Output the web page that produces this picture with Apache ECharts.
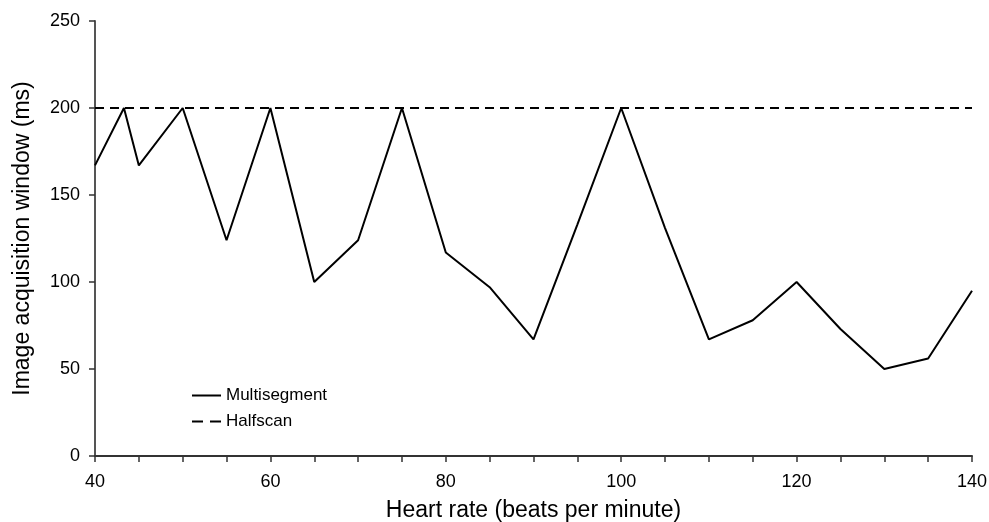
<!DOCTYPE html>
<html><head><meta charset="utf-8">
<script src="https://cdn.jsdelivr.net/npm/echarts@6/dist/echarts.min.js"></script>
<style>html,body{margin:0;padding:0;background:#fff}#c{width:989px;height:522px}</style>
</head><body><div id="c"></div>
<script>
var heartRate = [40, 43.3, 45, 50, 55, 60, 65, 70, 75, 80, 85, 90, 95, 100, 105, 110, 115, 120, 125, 130, 135, 140];
var multisegment = [167, 200, 167, 200, 124, 200, 100, 124, 200, 117, 97, 67, 133, 200, 131, 67, 78, 100, 73, 50, 56, 95];
var halfscanX = [40, 140];
var halfscan = [200, 200];
var xTicks = [40, 60, 80, 100, 120, 140];
var yTicks = [0, 50, 100, 150, 200, 250];

var font = 'Liberation Sans, Arial, sans-serif';
var chart = echarts.init(document.getElementById('c'));
chart.setOption({
  animation: false,
  backgroundColor: '#fff',
  grid: {left: 95, right: 17, top: 21, bottom: 66, outerBoundsMode: 'none', containLabel: false},
  legend: {
    orient: 'vertical', left: 186, top: 382, itemWidth: 29, itemHeight: 10, itemGap: 9,
    textStyle: {fontFamily: font, fontSize: 17, color: '#000'},
    itemStyle: {opacity: 0},
    data: [
      {name: 'Multisegment'},
      {name: 'Halfscan', lineStyle: {type: [11, 7], width: 2, color: '#000'}}
    ]
  },
  xAxis: {
    type: 'value', min: 40, max: 140, interval: 20,
    name: 'Heart rate (beats per minute)', nameLocation: 'middle', nameGap: 43,
    nameTextStyle: {fontFamily: font, fontSize: 23, color: '#000'},
    axisLine: {show: true, onZero: false, lineStyle: {color: '#333', width: 2}},
    axisTick: {show: true, length: 6, lineStyle: {color: '#333', width: 1.5}},
    minorTick: {show: true, splitNumber: 4, length: 6, lineStyle: {color: '#333', width: 1.5}},
    splitLine: {show: false},
    axisLabel: {fontFamily: font, fontSize: 18, color: '#000', margin: 17,
      formatter: function (v) { return xTicks.indexOf(v) >= 0 ? String(v) : ''; }}
  },
  yAxis: {
    type: 'value', min: 0, max: 250, interval: 50,
    name: 'Image acquisition window (ms)', nameLocation: 'middle', nameGap: 61,
    nameTextStyle: {fontFamily: font, fontSize: 23, color: '#000'},
    axisLine: {show: true, lineStyle: {color: '#555', width: 2}},
    axisTick: {show: true, length: 6, lineStyle: {color: '#333', width: 1.5}},
    splitLine: {show: false},
    axisLabel: {fontFamily: font, fontSize: 18, color: '#000', margin: 15,
      formatter: function (v) { return yTicks.indexOf(v) >= 0 ? String(v) : ''; }}
  },
  series: [
    {name: 'Multisegment', type: 'line', symbol: 'none',
      data: heartRate.map(function (x, i) { return [x, multisegment[i]]; }),
      lineStyle: {color: '#000', width: 2}, itemStyle: {color: '#000'}},
    {name: 'Halfscan', type: 'line', symbol: 'none',
      data: halfscanX.map(function (x, i) { return [x, halfscan[i]]; }),
      lineStyle: {color: '#000', width: 2, type: [9, 6]}, itemStyle: {color: '#000'}}
  ]
});
</script></body></html>
